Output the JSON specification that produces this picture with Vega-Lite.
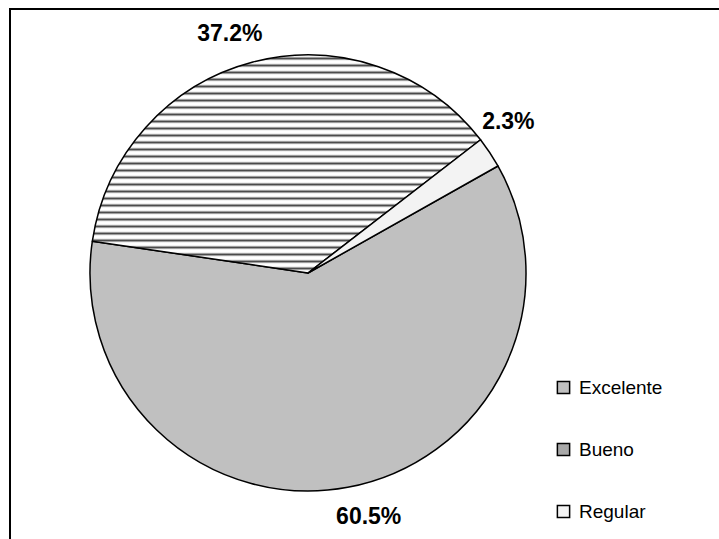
{
  "$schema": "https://vega.github.io/schema/vega-lite/v6.json",
  "width": 715,
  "height": 536,
  "autosize": {"type": "none"},
  "padding": {"left": 10, "top": 9, "right": -6, "bottom": -6},
  "background": "white",
  "view": {"stroke": "black", "strokeWidth": 2, "fill": "white"},
  "config": {
    "font": "Liberation Sans"
  },
  "data": {
    "values": [
      {"calidad": "Excelente", "porcentaje": 0.605, "orden": 1},
      {"calidad": "Bueno", "porcentaje": 0.372, "orden": 2},
      {"calidad": "Regular", "porcentaje": 0.023, "orden": 3}
    ]
  },
  "layer": [
    {
      "mark": {"type": "arc", "outerRadius": 218, "x": 298, "y": 264, "stroke": "black", "strokeWidth": 1.5, "strokeJoin": "round"},
      "encoding": {
        "theta": {"field": "porcentaje", "type": "quantitative", "stack": true, "scale": {"range": [1.0577, 7.3409]}},
        "order": {"field": "orden", "type": "quantitative"},
        "fill": {
          "condition": {
            "test": "datum.calidad === 'Bueno'",
            "value": {
              "gradient": "linear", "x1": 0, "y1": 0, "x2": 0, "y2": 1,
              "stops": [
                {"offset": 0, "color": "#ffffff"},
                {"offset": 0.006, "color": "#ffffff"}, {"offset": 0.016, "color": "#4a4a4a"}, {"offset": 0.026, "color": "#ffffff"},
                {"offset": 0.0381, "color": "#ffffff"}, {"offset": 0.0481, "color": "#4a4a4a"}, {"offset": 0.0581, "color": "#ffffff"},
                {"offset": 0.0702, "color": "#ffffff"}, {"offset": 0.0802, "color": "#4a4a4a"}, {"offset": 0.0902, "color": "#ffffff"},
                {"offset": 0.1023, "color": "#ffffff"}, {"offset": 0.1123, "color": "#4a4a4a"}, {"offset": 0.1223, "color": "#ffffff"},
                {"offset": 0.1344, "color": "#ffffff"}, {"offset": 0.1444, "color": "#4a4a4a"}, {"offset": 0.1544, "color": "#ffffff"},
                {"offset": 0.1666, "color": "#ffffff"}, {"offset": 0.1766, "color": "#4a4a4a"}, {"offset": 0.1866, "color": "#ffffff"},
                {"offset": 0.1987, "color": "#ffffff"}, {"offset": 0.2087, "color": "#4a4a4a"}, {"offset": 0.2187, "color": "#ffffff"},
                {"offset": 0.2308, "color": "#ffffff"}, {"offset": 0.2408, "color": "#4a4a4a"}, {"offset": 0.2508, "color": "#ffffff"},
                {"offset": 0.2629, "color": "#ffffff"}, {"offset": 0.2729, "color": "#4a4a4a"}, {"offset": 0.2829, "color": "#ffffff"},
                {"offset": 0.2950, "color": "#ffffff"}, {"offset": 0.3050, "color": "#4a4a4a"}, {"offset": 0.3150, "color": "#ffffff"},
                {"offset": 0.3271, "color": "#ffffff"}, {"offset": 0.3371, "color": "#4a4a4a"}, {"offset": 0.3471, "color": "#ffffff"},
                {"offset": 0.3592, "color": "#ffffff"}, {"offset": 0.3692, "color": "#4a4a4a"}, {"offset": 0.3792, "color": "#ffffff"},
                {"offset": 0.3913, "color": "#ffffff"}, {"offset": 0.4013, "color": "#4a4a4a"}, {"offset": 0.4113, "color": "#ffffff"},
                {"offset": 0.4234, "color": "#ffffff"}, {"offset": 0.4334, "color": "#4a4a4a"}, {"offset": 0.4434, "color": "#ffffff"},
                {"offset": 0.4555, "color": "#ffffff"}, {"offset": 0.4655, "color": "#4a4a4a"}, {"offset": 0.4755, "color": "#ffffff"},
                {"offset": 0.4877, "color": "#ffffff"}, {"offset": 0.4977, "color": "#4a4a4a"}, {"offset": 0.5077, "color": "#ffffff"},
                {"offset": 0.5198, "color": "#ffffff"}, {"offset": 0.5298, "color": "#4a4a4a"}, {"offset": 0.5398, "color": "#ffffff"},
                {"offset": 0.5519, "color": "#ffffff"}, {"offset": 0.5619, "color": "#4a4a4a"}, {"offset": 0.5719, "color": "#ffffff"},
                {"offset": 0.5840, "color": "#ffffff"}, {"offset": 0.5940, "color": "#4a4a4a"}, {"offset": 0.6040, "color": "#ffffff"},
                {"offset": 0.6161, "color": "#ffffff"}, {"offset": 0.6261, "color": "#4a4a4a"}, {"offset": 0.6361, "color": "#ffffff"},
                {"offset": 0.6482, "color": "#ffffff"}, {"offset": 0.6582, "color": "#4a4a4a"}, {"offset": 0.6682, "color": "#ffffff"},
                {"offset": 0.6803, "color": "#ffffff"}, {"offset": 0.6903, "color": "#4a4a4a"}, {"offset": 0.7003, "color": "#ffffff"},
                {"offset": 0.7124, "color": "#ffffff"}, {"offset": 0.7224, "color": "#4a4a4a"}, {"offset": 0.7324, "color": "#ffffff"},
                {"offset": 0.7445, "color": "#ffffff"}, {"offset": 0.7545, "color": "#4a4a4a"}, {"offset": 0.7645, "color": "#ffffff"},
                {"offset": 0.7766, "color": "#ffffff"}, {"offset": 0.7866, "color": "#4a4a4a"}, {"offset": 0.7966, "color": "#ffffff"},
                {"offset": 0.8088, "color": "#ffffff"}, {"offset": 0.8188, "color": "#4a4a4a"}, {"offset": 0.8288, "color": "#ffffff"},
                {"offset": 0.8409, "color": "#ffffff"}, {"offset": 0.8509, "color": "#4a4a4a"}, {"offset": 0.8609, "color": "#ffffff"},
                {"offset": 0.8730, "color": "#ffffff"}, {"offset": 0.8830, "color": "#4a4a4a"}, {"offset": 0.8930, "color": "#ffffff"},
                {"offset": 0.9051, "color": "#ffffff"}, {"offset": 0.9151, "color": "#4a4a4a"}, {"offset": 0.9251, "color": "#ffffff"},
                {"offset": 0.9372, "color": "#ffffff"}, {"offset": 0.9472, "color": "#4a4a4a"}, {"offset": 0.9572, "color": "#ffffff"},
                {"offset": 0.9693, "color": "#ffffff"}, {"offset": 0.9793, "color": "#4a4a4a"}, {"offset": 0.9893, "color": "#ffffff"},
                {"offset": 1, "color": "#ffffff"}
              ]
            }
          },
          "field": "calidad",
          "type": "nominal",
          "sort": ["Excelente", "Bueno", "Regular"],
          "scale": {
            "domain": ["Excelente", "Bueno", "Regular"],
            "range": ["#c0c0c0", "#a8a8a8", "#f3f3f3"]
          },
          "legend": {
            "orient": "none",
            "legendX": 544,
            "legendY": 369,
            "title": null,
            "padding": 0,
            "symbolType": "square",
            "symbolSize": 150,
            "symbolStrokeColor": "black",
            "symbolStrokeWidth": 1.5,
            "symbolOpacity": 1,
            "labelFont": "Liberation Sans",
            "labelFontSize": 19,
            "labelColor": "black",
            "labelOffset": 6,
            "rowPadding": 42
          }
        }
      }
    },
    {
      "mark": {"type": "text", "radius": 251, "x": 298, "y": 264, "font": "Liberation Sans", "fontSize": 23, "fontWeight": "bold", "color": "black"},
      "encoding": {
        "theta": {"field": "porcentaje", "type": "quantitative", "stack": true, "scale": {"range": [0.9966, 7.2798]}},
        "order": {"field": "orden", "type": "quantitative"},
        "text": {"field": "porcentaje", "type": "quantitative", "format": ".1%"}
      }
    }
  ],
  "resolve": {"scale": {"theta": "independent"}}
}
